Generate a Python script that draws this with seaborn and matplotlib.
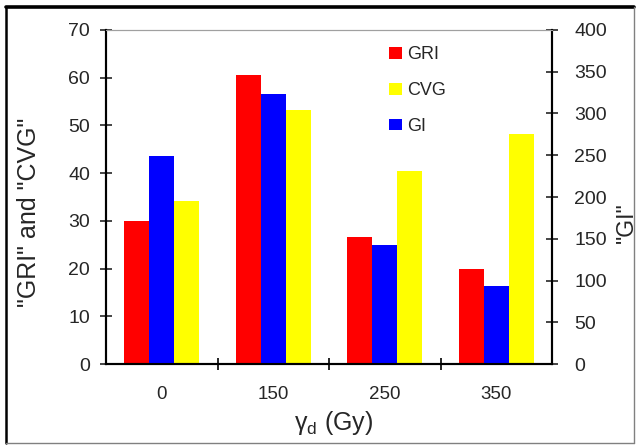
import numpy as np
import pandas as pd
import matplotlib
matplotlib.use("Agg")
import matplotlib.pyplot as plt
from matplotlib.patches import Patch
from matplotlib.lines import Line2D
from matplotlib.ticker import FixedLocator
import seaborn as sns

doses = ["0", "150", "250", "350"]
gri = [30.0, 60.5, 26.7, 20.0]
cvg = [34.2, 53.3, 40.5, 48.3]
gi = [249, 323, 143, 94]

series_order = ["GRI", "GI", "CVG"]
palette = {"GRI": "#FF0000", "GI": "#0000FF", "CVG": "#FFFF00"}

# GRI and CVG share the left axis, GI uses the right one; empty slots keep
# the three bars of each dose side by side
nan = [np.nan] * len(doses)
left_df = pd.DataFrame({
    "dose": doses * 3,
    "series": ["GRI"] * 4 + ["GI"] * 4 + ["CVG"] * 4,
    "value": gri + nan + cvg,
})
right_df = pd.DataFrame({
    "dose": doses * 3,
    "series": ["GRI"] * 4 + ["GI"] * 4 + ["CVG"] * 4,
    "value": nan + gi + nan,
})

sns.set_style("ticks")
plt.rcParams["font.family"] = ["Liberation Sans", "DejaVu Sans"]
plt.rcParams["mathtext.fontset"] = "custom"
plt.rcParams["mathtext.rm"] = "Liberation Sans"

fig = plt.figure(figsize=(6.37, 4.45), dpi=100)
ax = fig.add_axes([0.1664, 0.182, 0.7002, 0.7506])
ax2 = ax.twinx()

bar_kw = dict(x="dose", y="value", hue="series", hue_order=series_order, order=doses,
              palette=palette, width=0.67, gap=0, saturation=1, errorbar=None,
              legend=False, linewidth=0)
sns.barplot(data=left_df, ax=ax, **bar_kw)
sns.barplot(data=right_df, ax=ax2, **bar_kw)

ax.set_xlim(-0.5, 3.5)
ax.set_ylim(0, 70)
ax2.set_ylim(0, 400)
ax.set_yticks(np.arange(0, 71, 10))
ax2.set_yticks(np.arange(0, 401, 50))

# boundary ticks between dose groups, labels centred under each group
ax.xaxis.set_minor_locator(FixedLocator([0.5, 1.5, 2.5]))
ax.tick_params(axis="x", which="major", length=0, pad=16, labelsize=13.5)
ax.tick_params(axis="x", which="minor", direction="inout", length=8, width=1.2, color="black")
ax.tick_params(axis="y", direction="inout", length=8, width=1.2, labelsize=14, pad=7.5)
ax2.tick_params(axis="y", direction="inout", length=8, width=1.2, labelsize=14, pad=12)

for a in (ax, ax2):
    a.spines["top"].set_color("#a0a0a0")
    a.spines["top"].set_linewidth(0.8)
    for s in ("left", "right", "bottom"):
        a.spines[s].set_linewidth(1.5)
        a.spines[s].set_color("black")

ax.set_xlabel(r"γ$_{\rm d}$ (Gy)", fontsize=18)
ax.set_ylabel('"GRI" and "CVG"', fontsize=18)
ax2.set_ylabel('"GI"', fontsize=16.5, rotation=90)
ax.xaxis.set_label_coords(0.51, -0.135)
ax.yaxis.set_label_coords(-0.146, 0.455)
ax2.yaxis.set_label_coords(1.140, 0.422)

handles = [Patch(facecolor=palette[k], edgecolor="none") for k in ["GRI", "CVG", "GI"]]
ax2.legend(handles, ["GRI", "CVG", "GI"], loc="upper left", bbox_to_anchor=(0.619, 0.973),
           borderaxespad=0, borderpad=0.4, frameon=False, fontsize=13,
           handlelength=0.72, handleheight=0.62, handletextpad=0.25, labelspacing=1.04)

# figure frame: heavy top/left edges, light bottom/right edges
W, H = 637, 445
fig.add_artist(Line2D([6 / W, 634 / W], [1 - 6.5 / H, 1 - 6.5 / H], transform=fig.transFigure,
                      color="black", linewidth=2.6))
fig.add_artist(Line2D([6 / W, 6 / W], [1 - 6.5 / H, 1 - 443 / H], transform=fig.transFigure,
                      color="black", linewidth=1.8))
fig.add_artist(Line2D([6 / W, 634 / W], [1 - 443 / H, 1 - 443 / H], transform=fig.transFigure,
                      color="#808080", linewidth=1.0))
fig.add_artist(Line2D([634 / W, 634 / W], [1 - 6.5 / H, 1 - 443 / H], transform=fig.transFigure,
                      color="#808080", linewidth=1.0))

fig.savefig("out.png", dpi=100)
